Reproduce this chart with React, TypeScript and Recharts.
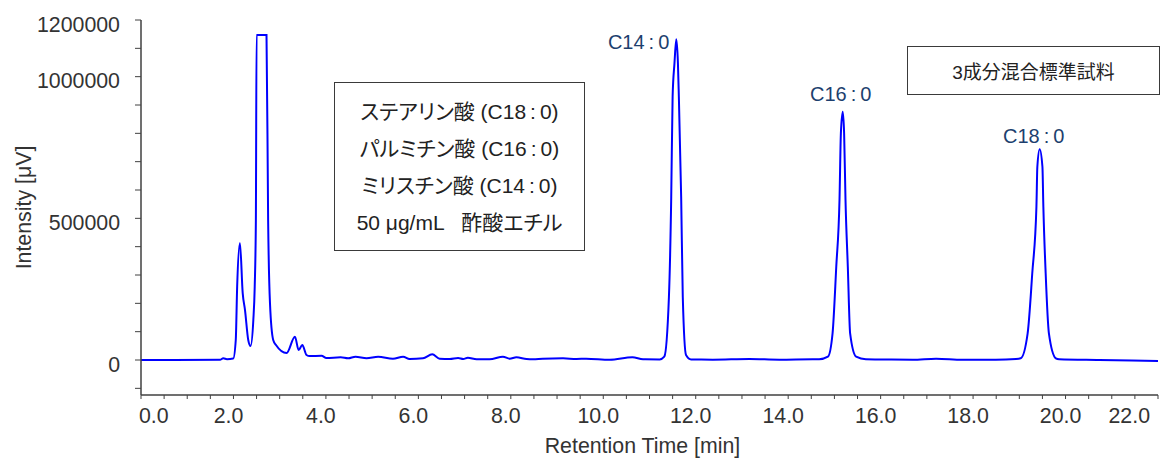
import React from "react";
import { LineChart, Line, XAxis, YAxis, ReferenceDot } from "recharts";

// chromatogram trace (min, µV)
const retentionTimes = [
  0, 1.71, 1.78, 1.86, 1.995, 2.05, 2.08, 2.14, 2.2, 2.25, 2.32, 2.37, 2.43, 2.46, 2.485, 2.5,
  2.715, 2.75, 2.79, 2.86, 2.92, 3.15, 3.33, 3.41, 3.49, 3.58, 3.65, 3.905, 4.01, 4.32, 4.48,
  4.64, 4.88, 5.13, 5.45, 5.67, 5.81, 6.1, 6.3, 6.46, 6.68, 6.86, 6.97, 7.07, 7.26, 7.54, 7.83,
  7.975, 8.12, 8.34, 8.48, 8.69, 9.13, 9.42, 9.63, 10.14, 10.63, 10.86, 11.22, 11.32, 11.42,
  11.47, 11.5, 11.54, 11.58, 11.615, 11.635, 11.685, 11.72, 11.79, 11.9, 12.08, 12.37, 13.16,
  13.81, 14.53, 14.67, 14.86, 14.96, 15.04, 15.11, 15.14, 15.18, 15.21, 15.24, 15.29, 15.34,
  15.47, 15.68, 15.97, 16.69, 17.2, 17.77, 18.49, 18.93, 19.03, 19.18, 19.28, 19.37, 19.39,
  19.44, 19.5, 19.52, 19.57, 19.64, 19.79, 19.86, 20.73, 22.0,
];

const intensities = [
  0, 1000, 6000, 3000, 5000, 70600, 259000, 413000, 236000, 176000, 70600, 49400, 141000, 259000,
  494000, 1147000, 1147000, 494000, 201000, 70600, 53000, 24700, 82000, 35000, 53000, 17600,
  14000, 15000, 7000, 9400, 6000, 11700, 6000, 11700, 4600, 11700, 3500, 6000, 20000, 4600, 3500,
  7000, 3500, 8100, 2500, 2500, 11700, 4600, 9400, 3500, 2500, 4600, 6000, 3500, 4600, 1000, 9400,
  2500, 2000, 11700, 222000, 575000, 929000, 1047000, 1132000, 1047000, 929000, 575000, 222000,
  17600, 2000, 1500, 1000, 3500, 1000, 2500, 2500, 11700, 94000, 329000, 565000, 800000, 876000,
  800000, 565000, 329000, 94000, 11700, 2500, 2000, 1000, 4600, 1000, 1000, 3500, 6000, 94000,
  306000, 541000, 682000, 744000, 682000, 541000, 306000, 94000, 6000, 2500, 0, -3500,
];

const peakNames = ["C14:0", "C16:0", "C18:0"];
const peakTimes = [11.58, 15.18, 19.44];
const peakHeights = [1132000, 876000, 744000];

const xTicks = [
  0, 0.5, 1, 1.5, 2, 2.5, 3, 3.5, 4, 4.5, 5, 5.5, 6, 6.5, 7, 7.5, 8, 8.5, 9, 9.5, 10, 10.5, 11,
  11.5, 12, 12.5, 13, 13.5, 14, 14.5, 15, 15.5, 16, 16.5, 17, 17.5, 18, 18.5, 19, 19.5, 20, 20.5,
  21, 21.5, 22,
];
const xLabeled = [0, 2, 4, 6, 8, 10, 12, 14, 16, 18, 20, 22];

const yTicks = [
  -100000, 0, 100000, 200000, 300000, 400000, 500000, 600000, 700000, 800000, 900000, 1000000,
  1100000, 1200000,
];
const yLabeled = [0, 500000, 1000000, 1200000];

const sampleLines = [
  "ステアリン酸 (C18:0)",
  "パルミチン酸 (C16:0)",
  "ミリスチン酸 (C14:0)",
  "50 μg/mL   酢酸エチル",
];
const title = "3成分混合標準試料";

const data = retentionTimes.map((t, k) => ({ t, i: intensities[k] }));

const FONT = "'Liberation Sans', Arial, 'Noto Sans CJK JP', sans-serif";
const TEXT = "#333";
const AXIS = "#404040";
const PEAK_TEXT = "#1d3f6e";

// label placement next to each peak top
const peakLabelStyle = [
  { anchor: "end", dx: -7, dy: 10 },
  { anchor: "middle", dx: -2, dy: -11 },
  { anchor: "middle", dx: -6, dy: -6 },
];

function withColon(s: string) {
  const [a, b] = s.split(":");
  if (b === undefined) return <>{s}</>;
  return (
    <>
      {a}
      <span style={{ margin: "0 4px" }}>:</span>
      {b}
    </>
  );
}

const XTick = (props: any) => {
  const { x, y, payload } = props;
  const v = payload.value;
  if (!xLabeled.includes(v)) return null;
  let anchor = "middle";
  let tx = x - 5;
  if (v === xLabeled[0]) {
    anchor = "start";
    tx = x - 2;
  } else if (v === xLabeled[xLabeled.length - 1]) {
    anchor = "end";
    tx = x - 8;
  }
  return (
    <text x={tx} y={y + 22} textAnchor={anchor} fill={TEXT} fontSize={21.33} fontFamily={FONT}>
      {v.toFixed(1)}
    </text>
  );
};

const YTick = (props: any) => {
  const { x, y, payload } = props;
  const v = payload.value;
  if (!yLabeled.includes(v)) return null;
  return (
    <text x={x - 13} y={y + 11.5} textAnchor="end" fill={TEXT} fontSize={21.33} fontFamily={FONT}>
      {String(v)}
    </text>
  );
};

const XTitle = (props: any) => {
  const vb = props.viewBox;
  return (
    <text
      x={vb.x + vb.width / 2 - 7}
      y={vb.y + 58}
      textAnchor="middle"
      fill={TEXT}
      fontSize={21.33}
      fontFamily={FONT}
    >
      Retention Time [min]
    </text>
  );
};

const YTitle = (props: any) => {
  const vb = props.viewBox;
  const cx = vb.x + 31;
  const cy = vb.y + vb.height / 2;
  return (
    <text
      x={cx}
      y={cy}
      transform={`rotate(-90 ${cx} ${cy})`}
      textAnchor="middle"
      fill={TEXT}
      fontSize={21.33}
      fontFamily={FONT}
    >
      Intensity [μV]
    </text>
  );
};

const PeakLabel = (props: any) => {
  const { cx, cy, k } = props;
  const st = peakLabelStyle[k];
  const [a, b] = peakNames[k].split(":");
  return (
    <text
      x={cx + st.dx}
      y={cy + st.dy}
      textAnchor={st.anchor}
      fill={PEAK_TEXT}
      fontSize={20}
      fontFamily={FONT}
    >
      <tspan>{a}</tspan>
      <tspan dx={4}>:</tspan>
      <tspan dx={4}>{b}</tspan>
    </text>
  );
};

export default function App() {
  return (
    <div
      style={{
        position: "absolute",
        left: 0,
        top: 0,
        width: 1173,
        height: 459,
        background: "#fff",
        fontFamily: FONT,
      }}
    >
      <LineChart width={1173} height={459} data={data} margin={{ top: 20, right: 15, bottom: 0, left: 0 }}>
        <XAxis
          type="number"
          dataKey="t"
          domain={[0, 22]}
          ticks={xTicks}
          interval={0}
          tickSize={4}
          tick={<XTick />}
          height={64}
          allowDataOverflow
          axisLine={{ stroke: AXIS, strokeWidth: 1.5 }}
          tickLine={{ stroke: AXIS }}
          label={(p: any) => <XTitle {...p} />}
        />
        <YAxis
          type="number"
          domain={[-123500, 1200000]}
          ticks={yTicks}
          interval={0}
          tickSize={6}
          tick={<YTick />}
          width={141}
          allowDataOverflow
          axisLine={{ stroke: AXIS, strokeWidth: 1.5 }}
          tickLine={{ stroke: AXIS }}
          label={(p: any) => <YTitle {...p} />}
        />
        <Line
          type="monotone"
          dataKey="i"
          stroke="#0000ff"
          strokeWidth={2}
          dot={false}
          isAnimationActive={false}
        />
        {peakNames.map((n, k) => (
          <ReferenceDot
            key={n}
            x={peakTimes[k]}
            y={peakHeights[k]}
            r={1}
            shape={(p: any) => <PeakLabel {...p} k={k} />}
          />
        ))}
      </LineChart>

      <div
        style={{
          position: "absolute",
          left: 334,
          top: 82,
          width: 251,
          height: 169,
          boxSizing: "border-box",
          border: "1px solid #3a3a3a",
          display: "flex",
          flexDirection: "column",
          justifyContent: "center",
          alignItems: "center",
          fontSize: 21,
          lineHeight: "37px",
          color: "#222",
          fontFeatureSettings: '"palt"',
          whiteSpace: "pre",
        }}
      >
        {sampleLines.map((s) => (
          <div key={s}>{withColon(s)}</div>
        ))}
      </div>

      <div
        style={{
          position: "absolute",
          left: 907,
          top: 46,
          width: 253,
          height: 49,
          boxSizing: "border-box",
          border: "1px solid #3a3a3a",
          display: "flex",
          justifyContent: "center",
          alignItems: "center",
          fontSize: 19,
          color: "#222",
        }}
      >
        {title}
      </div>
    </div>
  );
}
